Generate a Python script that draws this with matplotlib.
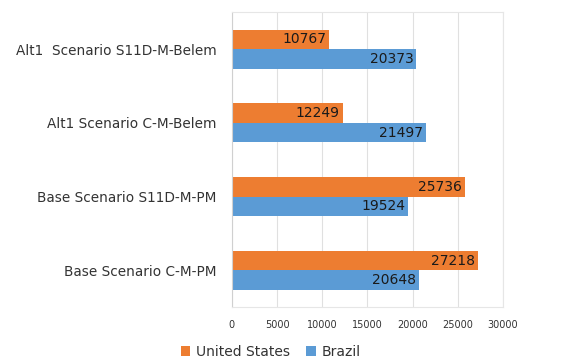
import numpy as np
import matplotlib.pyplot as plt

categories = ['Base Scenario C-M-PM', 'Base Scenario S11D-M-PM',
              'Alt1 Scenario C-M-Belem', 'Alt1  Scenario S11D-M-Belem']
united_states = [27218, 25736, 12249, 10767]
brazil = [20648, 19524, 21497, 20373]

orange = '#ED7D31'
blue = '#5B9BD5'

fig = plt.figure(figsize=(5.64, 3.58), dpi=100)
ax = fig.add_axes([0.411, 0.142, 0.481, 0.824])

y = np.arange(len(categories))
h = 0.265
b1 = ax.barh(y + h/2, united_states, height=h, color=orange, label='United States')
b2 = ax.barh(y - h/2, brazil, height=h, color=blue, label='Brazil')

for bars, vals in [(b1, united_states), (b2, brazil)]:
    for bar, v in zip(bars, vals):
        ax.text(v - 300, bar.get_y() + bar.get_height()/2, str(v),
                ha='right', va='center', fontsize=10, color='#1a1a1a')

ax.set_xlim(0, 30000)
ax.set_ylim(-0.5, len(categories) - 0.5)
ax.set_xticks(np.arange(0, 30001, 5000))
ax.set_yticks(y)
ax.set_yticklabels(categories, fontsize=9.8, color='#333333')
ax.tick_params(axis='x', labelsize=7, colors='#333333', length=0, pad=9)
ax.tick_params(axis='y', length=0, pad=11)
ax.grid(axis='x', color='#e0e0e0', linewidth=0.8)
ax.set_axisbelow(True)
for s in ax.spines.values():
    s.set_color('#e6e6e6')
    s.set_linewidth(0.8)
ax.spines['left'].set_color('#d0d0d0')

fig.legend(handles=[b1, b2], loc='center', bbox_to_anchor=(0.48, 0.018),
           ncol=2, frameon=False, fontsize=10, handlelength=0.7, handleheight=0.7,
           handletextpad=0.4, columnspacing=1.2, labelcolor='#333333')

fig.savefig('out.png', dpi=100)
